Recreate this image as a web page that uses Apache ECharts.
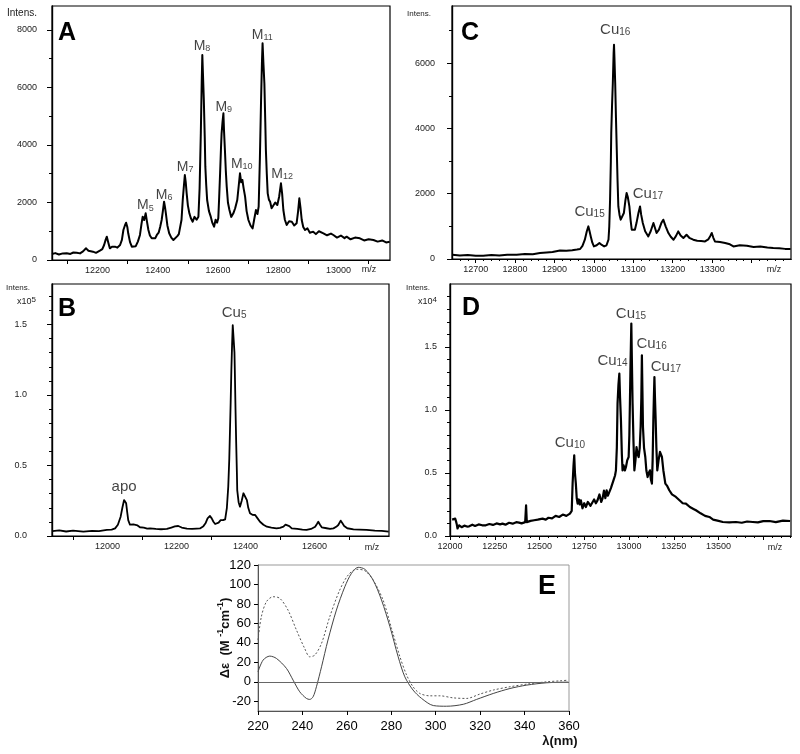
<!DOCTYPE html>
<html><head><meta charset="utf-8">
<script src="https://cdn.jsdelivr.net/npm/echarts@6/dist/echarts.min.js"></script>
<style>html,body{margin:0;padding:0;background:#fff}#c{width:800px;height:754px}</style>
</head><body><div id="c"></div>
<script>
const FONT = 'Liberation Sans, Arial, Helvetica, sans-serif';

// ---------- Panel A ----------
const aMz = [12049,12060,12072,12085,12098,12110,12120,12131,12142,12152,12162,12170,12175,12185,12195,12208,12216,12222,12227,12231,12236,12241,12248,12258,12266,12275,12281,12286,12291,12295,12299,12302,12308,12314,12320,12327,12334,12341,12346,12350,12355,12360,12364,12369,12374,12380,12386,12392,12397,12403,12408,12413,12417,12421,12424,12427,12432,12438,12445,12452,12458,12465,12470,12474,12479,12483,12487,12490,12493,12496,12500,12505,12510,12516,12522,12529,12535,12539,12543,12546,12548,12550,12553,12556,12558,12561,12564,12570,12576,12581,12587,12592,12597,12601,12604,12607,12610,12612,12615,12618,12620,12623,12626,12629,12633,12638,12644,12651,12657,12664,12669,12673,12677,12681,12685,12690,12695,12701,12708,12715,12720,12726,12731,12735,12739,12743,12746,12748,12751,12754,12757,12759,12762,12765,12769,12773,12778,12784,12790,12797,12803,12809,12813,12817,12822,12828,12836,12845,12853,12861,12866,12870,12874,12878,12883,12889,12897,12905,12916,12925,12935,12950,12962,12975,12983,12995,13008,13020,13027,13040,13055,13071,13085,13100,13116,13130,13145,13158,13170];
const aInt = [209,240,190,230,232,210,260,255,230,300,406,320,266,290,250,325,380,522,700,811,600,406,460,464,430,522,700,1043,1200,1298,1150,928,620,464,520,480,640,870,1250,1507,1391,1623,1350,1043,850,754,820,760,870,950,1150,1391,1700,2029,1850,1623,1200,928,780,696,760,830,900,928,1400,2087,2600,2956,2700,2319,1900,1623,1450,1333,1500,1400,1507,2500,4406,6200,7130,6500,5565,4300,3246,2600,2087,1700,1507,1300,1159,1400,1300,1449,2200,3014,3900,4406,4800,5101,4500,3826,3100,2551,2000,1739,1500,1623,1800,2087,2600,3014,2700,2783,2500,2203,1700,1391,1200,1101,1400,1739,1600,1855,3500,5565,6900,7536,6800,6145,4800,3826,3000,2319,2100,2029,1800,1855,2000,1913,2200,2667,2300,1739,1400,1217,1350,1333,1200,1275,1700,2145,1800,1391,1150,1043,1100,950,986,900,1000,928,860,920,870,780,850,760,811,720,780,754,680,720,696,640,680,610,638];
const aXLabels = [12200,12400,12600,12800,13000];
const aXTicks = [12100,12300,12500,12700,12900,13100];
const aYLabels = [0,2000,4000,6000,8000];
const aYMinor = [1000,3000,5000,7000];
const aLabBase = ['M','M','M','M','M','M','M','M'];
const aLabSub = ['5','6','7','8','9','10','11','12'];
const aLabMz = [12359,12421,12491,12547,12619,12679,12747,12813];
const aLabInt = [1650,2000,2990,7200,5090,3100,7570,2740];

// ---------- Panel B (x10^5) ----------
const bMz = [11840,11860,11880,11900,11930,11955,11975,11998,12012,12022,12030,12038,12043,12048,12051,12054,12057,12060,12065,12070,12075,12080,12087,12094,12105,12115,12123,12140,12155,12172,12185,12195,12205,12215,12230,12245,12258,12268,12278,12284,12290,12297,12302,12307,12312,12317,12322,12328,12335,12341,12346,12350,12353,12355,12357,12359,12361,12363,12366,12368,12369,12371,12373,12375,12376,12380,12384,12389,12394,12399,12404,12408,12413,12420,12428,12435,12442,12452,12462,12475,12490,12500,12510,12516,12521,12527,12534,12550,12565,12577,12590,12602,12607,12611,12616,12621,12635,12645,12655,12663,12669,12676,12681,12686,12695,12713,12730,12751,12775,12795,12815];
const bInt = [0.035,0.040,0.032,0.038,0.031,0.037,0.034,0.043,0.045,0.054,0.080,0.137,0.200,0.255,0.245,0.232,0.170,0.113,0.080,0.071,0.082,0.090,0.075,0.062,0.060,0.052,0.054,0.050,0.048,0.050,0.060,0.068,0.071,0.060,0.052,0.050,0.052,0.054,0.070,0.090,0.125,0.142,0.125,0.101,0.085,0.078,0.095,0.113,0.112,0.118,0.200,0.350,0.550,0.752,0.950,1.177,1.350,1.496,1.508,1.300,1.177,0.900,0.657,0.450,0.326,0.240,0.208,0.250,0.303,0.314,0.255,0.200,0.161,0.150,0.149,0.125,0.101,0.080,0.066,0.060,0.054,0.058,0.066,0.080,0.090,0.070,0.054,0.050,0.045,0.043,0.050,0.066,0.085,0.101,0.080,0.062,0.055,0.050,0.054,0.065,0.078,0.109,0.090,0.071,0.055,0.047,0.045,0.043,0.038,0.036,0.031];
const bXLabels = [12000,12200,12400,12600];
const bXTicks = [11900,12100,12300,12500,12700];
const bYLabels = [0,0.5,1.0,1.5];
const bYMinor = [0.1,0.2,0.3,0.4,0.6,0.7,0.8,0.9,1.1,1.2,1.3,1.4,1.6,1.7];
const bLabBase = ['apo','Cu'];
const bLabSub = ['','5'];
const bLabMz = [12048,12367];
const bLabInt = [0.298,1.532];

// ---------- Panel C ----------
const cMz = [12641,12660,12680,12700,12719,12740,12760,12780,12804,12825,12845,12863,12880,12895,12914,12930,12945,12957,12965,12971,12977,12982,12986,12989,12992,12996,13000,13007,13014,13020,13026,13032,13037,13039,13041,13043,13044,13046,13048,13050,13051,13052,13054,13056,13058,13060,13062,13065,13068,13072,13076,13080,13083,13086,13090,13093,13096,13100,13104,13108,13113,13117,13120,13124,13130,13138,13144,13151,13155,13159,13165,13171,13176,13182,13189,13195,13202,13208,13214,13220,13227,13231,13235,13242,13252,13262,13272,13282,13290,13295,13299,13303,13307,13320,13333,13345,13354,13370,13388,13405,13422,13440,13455,13470,13485,13499];
const cInt = [132,110,125,100,101,120,105,130,132,150,145,184,200,215,263,250,270,290,306,400,591,850,999,850,692,500,386,420,490,430,386,420,591,1000,1816,3000,3859,4700,5391,6300,6564,6200,5391,4300,3348,2400,1611,1350,1204,1250,1409,1800,2022,1900,1611,1200,897,850,897,1100,1409,1611,1350,1103,850,692,850,1103,950,796,900,1100,1204,1000,796,680,591,700,845,720,643,700,744,650,591,560,550,539,600,700,796,650,539,520,490,450,386,420,407,370,386,350,337,330,310,306];
const cXLabels = [12700,12800,12900,13000,13100,13200,13300];
const cXTicks = [12700,12800,12900,13000,13100,13200,13300,13400];
const cYLabels = [0,2000,4000,6000];
const cYMinor = [1000,3000,5000,7000];
const cLabBase = ['Cu','Cu','Cu'];
const cLabSub = ['15','16','17'];
const cLabMz = [12989,13054,13137];
const cLabInt = [1204,6788,1764];

// ---------- Panel D (x10^4) ----------
const dMz = [12012,12029,12033,12037,12042,12051,12065,12080,12095,12107,12125,12140,12160,12180,12200,12220,12240,12260,12280,12293,12310,12330,12350,12370,12386,12400,12420,12425,12429,12438,12450,12470,12490,12517,12535,12550,12570,12590,12610,12630,12650,12670,12680,12685,12690,12694,12698,12703,12708,12713,12720,12725,12731,12740,12750,12759,12770,12785,12796,12805,12815,12824,12835,12845,12852,12860,12868,12875,12882,12890,12899,12908,12915,12922,12927,12932,12936,12941,12946,12950,12955,12960,12964,12970,12977,12983,12990,12998,13002,13005,13009,13013,13016,13020,13025,13030,13036,13042,13048,13054,13060,13065,13069,13072,13075,13078,13084,13091,13097,13104,13110,13117,13122,13128,13132,13136,13139,13142,13145,13149,13153,13158,13165,13173,13178,13184,13192,13203,13212,13225,13240,13262,13285,13300,13318,13340,13360,13374,13400,13425,13449,13470,13500,13524,13560,13598,13630,13660,13691,13720,13750,13785,13820,13860,13900];
const dInt = [0.130,0.138,0.120,0.098,0.060,0.085,0.070,0.082,0.075,0.077,0.090,0.080,0.092,0.085,0.085,0.095,0.088,0.100,0.092,0.098,0.090,0.105,0.098,0.110,0.106,0.100,0.110,0.244,0.110,0.098,0.120,0.125,0.130,0.138,0.130,0.145,0.140,0.160,0.151,0.170,0.160,0.178,0.200,0.416,0.560,0.640,0.500,0.416,0.300,0.257,0.290,0.250,0.283,0.220,0.260,0.230,0.270,0.240,0.244,0.290,0.260,0.283,0.330,0.270,0.297,0.360,0.300,0.363,0.320,0.310,0.380,0.389,0.450,0.480,0.521,0.700,1.051,1.200,1.289,1.100,0.918,0.650,0.521,0.560,0.520,0.548,0.600,0.627,0.800,1.051,1.400,1.686,1.400,1.051,0.750,0.521,0.600,0.706,0.650,0.627,0.700,0.865,1.100,1.434,1.150,0.865,0.700,0.627,0.520,0.468,0.500,0.521,0.450,0.416,0.600,0.918,1.100,1.262,1.100,0.918,0.700,0.521,0.600,0.667,0.650,0.627,0.520,0.416,0.400,0.363,0.330,0.310,0.280,0.260,0.257,0.230,0.215,0.204,0.180,0.160,0.151,0.130,0.120,0.111,0.108,0.111,0.105,0.115,0.111,0.108,0.118,0.119,0.110,0.122,0.119];
const dXLabels = [12000,12250,12500,12750,13000,13250,13500];
const dXTicks = [12000,12250,12500,12750,13000,13250,13500,13750];
const dXMinor = [12050,12100,12150,12200,12300,12350,12400,12450,12550,12600,12650,12700,12800,12850,12900,12950,13050,13100,13150,13200,13300,13350,13400,13450,13550,13600,13650,13700,13800,13850,13900];
const dYLabels = [0,0.5,1.0,1.5];
const dYMinor = [0.1,0.2,0.3,0.4,0.6,0.7,0.8,0.9,1.1,1.2,1.3,1.4,1.6,1.7,1.8,1.9];
const dLabBase = ['Cu','Cu','Cu','Cu','Cu'];
const dLabSub = ['10','14','15','16','17'];
const dLabMz = [12670,12908,13011,13126,13206];
const dLabInt = [0.680,1.328,1.704,1.466,1.281];

// ---------- Panel E (CD spectra) ----------
const eSolidX = [220,222.3,225.3,228.3,232.8,235.8,238.8,241.8,243.3,244.8,246.3,248.6,251.5,255.3,259.1,262.1,265.1,268.1,271.8,275.6,279.4,283.1,286.1,289.8,293.6,298.9,304.9,312.4,318.4,325.9,333.4,341,350,359.7];
const eSolidY = [10.3,22.3,26.4,24,13.8,1.7,-10.3,-17.1,-18.1,-15.4,-5.1,15.4,42.9,73.7,97.7,111.5,117.6,115.6,104.6,84,56.6,25.7,5.1,-8.5,-17,-24.4,-25.1,-23.1,-18.1,-12,-6.9,-3.4,-1.0,-0.3];
const eDotX = [220,221.5,223.8,226.8,229.8,233.5,237.3,241,243.3,245.6,248.6,252.3,256.8,260.6,264.3,268.1,271.8,276.3,280.1,283.9,286.9,289.8,292.8,297.3,301.9,307.9,313.9,319.9,325.9,333.4,341,350,356,359.7];
const eDotY = [42.9,66.8,82.3,87.4,85.8,73.7,53.2,34.3,25.7,27.5,39.5,66.8,94.3,109.7,115.6,114.1,104.6,84,54.9,25.7,6.9,-5.1,-11.9,-14.4,-14.4,-16.5,-17.1,-12.6,-8.5,-5.1,-2.4,0,1,1.7];
const eXLabels = [220,240,260,280,300,320,340,360];
const eYLabels = [-20,0,20,40,60,80,100,120];

// ---------- build ----------
const zip = (xs, ys) => xs.map((x, i) => [x, ys[i]]);
const labs = (xs, ys, bs, ss) => xs.map((x, i) => ({ value: [x, ys[i]], base: bs[i], sub: ss[i] }));

const grids = [
  { left: 52, top: 6, width: 338, height: 254 },    // A
  { left: 52, top: 284, width: 337, height: 252 },  // B
  { left: 452, top: 6, width: 339, height: 253 },   // C
  { left: 450, top: 284, width: 341, height: 252 }, // D
  { left: 258, top: 565, width: 311, height: 146 }  // E
].map(g => Object.assign({ show: true, borderColor: '#000', borderWidth: 1.2, backgroundColor: 'transparent', containLabel: false }, g));
grids[4].borderColor = '#999';
grids[4].borderWidth = 1;

const xAxes = [], yAxes = [];
function xAx(g, min, max, ticks, labels, len, fmt, extra) {
  const ax = {
    type: 'value', gridIndex: g, min, max, position: 'bottom',
    axisLine: { show: true, onZero: false, lineStyle: { color: '#000', width: 1.2 } },
    axisTick: { show: true, customValues: ticks, length: len, lineStyle: { color: '#000', width: 1 } },
    axisLabel: labels ? { show: true, customValues: labels, formatter: fmt, fontSize: 9, color: '#222', margin: 6, fontFamily: FONT } : { show: false },
    splitLine: { show: false }
  };
  xAxes.push(Object.assign(ax, extra || {}));
  return xAxes.length - 1;
}
function yAx(g, min, max, ticks, labels, len, fmt, margin, extra) {
  const ax = {
    type: 'value', gridIndex: g, min, max, position: 'left',
    axisLine: { show: true, onZero: false, lineStyle: { color: '#000', width: 1.2 } },
    axisTick: { show: true, customValues: ticks, length: len, lineStyle: { color: '#000', width: 1 } },
    axisLabel: labels ? { show: true, customValues: labels, formatter: fmt, fontSize: 9, color: '#222', margin: margin, fontFamily: FONT } : { show: false },
    splitLine: { show: false }
  };
  yAxes.push(Object.assign(ax, extra || {}));
  return yAxes.length - 1;
}
const intF = v => String(Math.round(v));
const oneF = v => v.toFixed(1);

// A
const axA = xAx(0, 12049, 13171, aXTicks, aXLabels, 4, intF);
const ayA = yAx(0, 0, 8834, aYLabels, aYLabels, 5, intF, 15);
yAx(0, 0, 8834, aYMinor, null, 3);
// B
const axB = xAx(1, 11839, 12816, bXTicks, bXLabels, 4, intF);
const ayB = yAx(1, 0, 1.787, bYLabels, bYLabels, 5, oneF, 25);
yAx(1, 0, 1.787, bYMinor, null, 3);
// C
const axC = xAx(2, 12640, 13500, cXTicks, cXLabels, 4, intF);
xAx(2, 12640, 13500, (function () { const r = []; for (let v = 12660; v <= 13480; v += 20) if (v % 100) r.push(v); return r; })(), null, 2);
const ayC = yAx(2, 0, 7750, cYLabels, cYLabels, 5, intF, 17);
yAx(2, 0, 7750, cYMinor, null, 3);
// D
const axD = xAx(3, 12000, 13905, dXTicks, dXLabels, 4, intF);
xAx(3, 12000, 13905, dXMinor, null, 2);
const ayD = yAx(3, 0, 2.0, dYLabels, dYLabels, 5, oneF, 13);
yAx(3, 0, 2.0, dYMinor, null, 3);
// E
const axE = xAx(4, 220, 360, eXLabels, eXLabels, 4, intF, {
  axisLine: { show: true, onZero: false, lineStyle: { color: '#555', width: 1 } },
  axisLabel: { show: true, customValues: eXLabels, formatter: intF, fontSize: 13, color: '#000', margin: 9, fontFamily: FONT }
});
const ayE = yAx(4, -30, 120, eYLabels, eYLabels, 4, intF, 7, {
  axisLine: { show: true, onZero: false, lineStyle: { color: '#555', width: 1 } },
  axisLabel: { show: true, customValues: eYLabels, formatter: intF, fontSize: 13, color: '#000', margin: 7, fontFamily: FONT }
});

function trace(xi, yi, data, w) {
  return { type: 'line', xAxisIndex: xi, yAxisIndex: yi, data, showSymbol: false, symbol: 'none',
    lineStyle: { color: '#000', width: w, join: 'round' }, clip: true, z: 3 };
}
function annot(xi, yi, data, fs, ss) {
  return { type: 'scatter', xAxisIndex: xi, yAxisIndex: yi, data, symbolSize: 0, z: 5, silent: true,
    label: { show: true, position: 'top', distance: 0, color: '#111', textBorderWidth: 0,
      formatter: p => p.data.sub ? `{m|${p.data.base}}{s|${p.data.sub}}` : `{m|${p.data.base}}`,
      rich: {
        m: { fontSize: fs, fontFamily: FONT, color: '#111', verticalAlign: 'bottom', lineHeight: fs + 2 },
        s: { fontSize: ss, fontFamily: FONT, color: '#111', verticalAlign: 'bottom', lineHeight: 6 }
      } } };
}

const series = [
  trace(axA, ayA, zip(aMz, aInt), 2),
  trace(axB, ayB, zip(bMz, bInt), 1.8),
  trace(axC, ayC, zip(cMz, cInt), 2),
  trace(axD, ayD, zip(dMz, dInt), 2.2),
  annot(axA, ayA, labs(aLabMz, aLabInt, aLabBase, aLabSub), 14, 9),
  annot(axB, ayB, labs(bLabMz, bLabInt, bLabBase, bLabSub), 15, 10),
  annot(axC, ayC, labs(cLabMz, cLabInt, cLabBase, cLabSub), 15, 10),
  annot(axD, ayD, labs(dLabMz, dLabInt, dLabBase, dLabSub), 15, 10),
  { type: 'line', xAxisIndex: axE, yAxisIndex: ayE, data: zip(eSolidX, eSolidY), showSymbol: false, smooth: 0.3,
    lineStyle: { color: '#444', width: 1 },
    markLine: { silent: true, symbol: 'none', label: { show: false }, lineStyle: { color: '#666', width: 1, type: 'solid' }, data: [{ yAxis: 0 }] } },
  { type: 'line', xAxisIndex: axE, yAxisIndex: ayE, data: zip(eDotX, eDotY), showSymbol: false, smooth: 0.3,
    lineStyle: { color: '#555', width: 1, type: [2, 2] } }
];

const txt = (x, y, text, style) => ({ type: 'text', x, y, silent: true,
  style: Object.assign({ text, fontFamily: FONT, fill: '#222', fontSize: 9 }, style) });
const graphic = [
  txt(67, 33, 'A', { fontSize: 25, fontWeight: 'bold', fill: '#000', align: 'center', verticalAlign: 'middle' }),
  txt(470, 33, 'C', { fontSize: 25, fontWeight: 'bold', fill: '#000', align: 'center', verticalAlign: 'middle' }),
  txt(67, 309, 'B', { fontSize: 25, fontWeight: 'bold', fill: '#000', align: 'center', verticalAlign: 'middle' }),
  txt(471, 308, 'D', { fontSize: 25, fontWeight: 'bold', fill: '#000', align: 'center', verticalAlign: 'middle' }),
  txt(547, 587, 'E', { fontSize: 27, fontWeight: 'bold', fill: '#000', align: 'center', verticalAlign: 'middle' }),
  txt(22, 13, 'Intens.', { fontSize: 10, align: 'center', verticalAlign: 'middle' }),
  txt(419, 14, 'Intens.', { fontSize: 8, align: 'center', verticalAlign: 'middle' }),
  txt(18, 288, 'Intens.', { fontSize: 8, align: 'center', verticalAlign: 'middle' }),
  txt(418, 288, 'Intens.', { fontSize: 8, align: 'center', verticalAlign: 'middle' }),
  { type: 'text', x: 17, y: 301, silent: true, style: { text: '{a|x10}{b|5}', verticalAlign: 'middle',
      rich: { a: { fontSize: 9, fontFamily: FONT, fill: '#222', verticalAlign: 'bottom', lineHeight: 10 }, b: { fontSize: 8, fontFamily: FONT, fill: '#222', verticalAlign: 'top', lineHeight: 7 } } } },
  { type: 'text', x: 418, y: 301, silent: true, style: { text: '{a|x10}{b|4}', verticalAlign: 'middle',
      rich: { a: { fontSize: 9, fontFamily: FONT, fill: '#222', verticalAlign: 'bottom', lineHeight: 10 }, b: { fontSize: 8, fontFamily: FONT, fill: '#222', verticalAlign: 'top', lineHeight: 7 } } } },
  txt(369, 270, 'm/z', { fontSize: 9, fill: '#222', align: 'center', verticalAlign: 'middle' }),
  txt(774, 270, 'm/z', { fontSize: 9, fill: '#222', align: 'center', verticalAlign: 'middle' }),
  txt(372, 548, 'm/z', { fontSize: 9, fill: '#222', align: 'center', verticalAlign: 'middle' }),
  txt(775, 548, 'm/z', { fontSize: 9, fill: '#222', align: 'center', verticalAlign: 'middle' }),
  txt(560, 741, 'λ(nm)', { fontSize: 13, fontWeight: 'bold', fill: '#111', align: 'center', verticalAlign: 'middle' }),
  { type: 'text', x: 224, y: 638, rotation: Math.PI / 2, silent: true,
    style: { text: '{n|Δε  (M }{p|-1}{n|cm}{p|-1}{n|)}', align: 'center', verticalAlign: 'middle',
      rich: { n: { fontSize: 13, fontWeight: 'bold', fontFamily: FONT, fill: '#111', verticalAlign: 'bottom', lineHeight: 15 },
              p: { fontSize: 9, fontWeight: 'bold', fontFamily: FONT, fill: '#111', verticalAlign: 'top', lineHeight: 9 } } } }
];

const chart = echarts.init(document.getElementById('c'), null, { renderer: 'canvas' });
chart.setOption({ animation: false, backgroundColor: '#fff', grid: grids, xAxis: xAxes, yAxis: yAxes, series, graphic });
</script>
</body></html>
